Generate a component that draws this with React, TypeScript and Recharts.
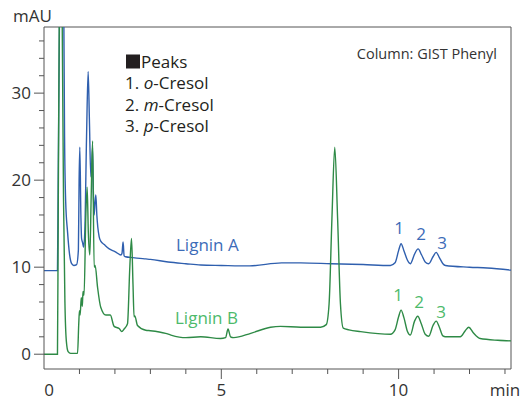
import React from "react";
import { LineChart, Line, XAxis, YAxis, ReferenceLine } from "recharts";

// retention time (min) and absorbance (mAU)
const ligninATime = [
  0, 0.38, 0.4, 0.45, 0.5, 0.55, 0.58, 0.61, 0.665, 0.72, 0.78, 0.84, 0.92, 0.97, 0.99, 1.01,
  1.04, 1.06, 1.09, 1.115, 1.15, 1.2, 1.245, 1.28, 1.32, 1.35, 1.369, 1.39, 1.414, 1.44, 1.462,
  1.49, 1.555, 1.6, 1.7, 1.84, 2.0, 2.17, 2.2, 2.23, 2.26, 2.3, 2.5, 2.87, 3.0, 3.5, 4.0, 4.42,
  5.0, 5.8, 6.7, 7.24, 8.1, 9.0, 9.77, 9.9, 10.0, 10.07, 10.15, 10.25, 10.33, 10.45, 10.55,
  10.65, 10.75, 10.85, 10.97, 11.06, 11.15, 11.25, 11.32, 12.0, 12.5, 13.2,
];
const ligninASignal = [
  9.6, 9.6, 20, 45, 60, 45, 25, 17.7, 14, 11.5, 10.4, 10.2, 10.3, 12, 20, 23.8,
  16, 13.3, 12.8, 12.3, 14, 25, 32.5, 27, 20.4, 22, 23.7, 19, 16, 17.5, 18.3,
  16, 13.5, 13.0, 12.6, 12.1, 11.8, 11.4, 11.6, 12.9, 11.3, 11.2, 11.1, 10.95, 10.9, 10.6, 10.4, 10.25,
  10.2, 10.15, 10.5, 10.5, 10.4, 10.3, 10.2, 10.5, 11.9, 12.7, 11.9, 10.8, 10.4, 11.5, 12.1,
  11.4, 10.6, 10.4, 11.2, 11.7, 11.1, 10.4, 10.2, 10.0, 9.9, 9.65,
];

const ligninBTime = [
  0, 0.38, 0.4, 0.44, 0.47, 0.51, 0.55, 0.59, 0.63, 0.68, 0.75, 0.946, 0.98, 1.0, 1.02, 1.05,
  1.08, 1.1, 1.13, 1.18, 1.217, 1.25, 1.293, 1.33, 1.37, 1.414, 1.442, 1.51, 1.6, 1.744, 1.87,
  1.977, 2.12, 2.194, 2.26, 2.355, 2.42, 2.468, 2.51, 2.54, 2.56, 2.637, 2.87, 3.0, 3.43, 3.58,
  4.0, 4.42, 4.98, 5.12, 5.19, 5.26, 5.35, 5.83, 6.39, 6.67, 7.24, 7.8, 7.96, 8.04, 8.12, 8.2,
  8.28, 8.36, 8.44, 8.6, 8.93, 9.77, 9.9, 10.0, 10.07, 10.15, 10.25, 10.33, 10.45, 10.54, 10.64,
  10.75, 10.85, 10.97, 11.06, 11.15, 11.25, 11.32, 11.74, 11.88, 11.98, 12.1, 12.3, 12.8, 13.2,
];
const ligninBSignal = [
  0, 0, 15, 45, 55, 40, 18, 6, 1.5, 0.3, 0.1, 0.1, 3.5, 5.0, 4.5, 6.5,
  5.5, 7.2, 6.8, 16, 19.2, 14, 11.4, 18, 24.5, 10.0, 10.2, 7.7, 5.4, 4.5, 4.5,
  3.2, 2.95, 2.6, 2.9, 3.5, 10, 13.3, 8, 4.3, 4.4, 3.3, 2.75, 2.7, 2.4, 2.2,
  1.9, 2.0, 1.8, 1.9, 2.9, 2.0, 1.9, 2.4, 3.1, 3.2, 3.1, 3.1, 3.4, 5.8, 15.6, 23.8,
  15.6, 5.8, 3.0, 2.8, 2.6, 2.3, 2.8, 4.3, 5.06, 4.2, 2.6, 2.2, 3.8, 4.37, 3.5,
  2.3, 2.07, 3.3, 3.8, 3.1, 2.1, 2.0, 2.0, 2.7, 3.1, 2.5, 1.8, 1.6, 1.53,
];

const yTicks = [0, 2, 4, 6, 8, 10, 12, 14, 16, 18, 20, 22, 24, 26, 28, 30, 32, 34, 36];
const yLabels = [0, 10, 20, 30];
const xTicks = [0, 1, 2, 3, 4, 5, 6, 7, 8, 9, 10, 11, 12, 13];
const xLabels: Record<number, string> = { 0: "0", 5: "5", 10: "10", 13: "min" };

const peakNames = ["o", "m", "p"];

const X_MAX = 13.17;
const Y_MIN = -1.7;
const Y_MAX = 37.6;

const axisColor = "#555555";
const textColor = "#333333";
const blue = "#2f5fae";
const green = "#2e8a46";
const font = "'Open Sans', sans-serif";

const ligninA = ligninATime.map((t, i) => ({ t, v: ligninASignal[i] }));
const ligninB = ligninBTime.map((t, i) => ({ t, v: ligninBSignal[i] }));

const YTick = (props: any) => {
  const { x, y, payload } = props;
  const major = yLabels.includes(payload.value);
  return (
    <g>
      <line x1={x - (major ? 10 : 5)} x2={x} y1={y} y2={y} stroke={axisColor} />
      {major && (
        <text x={x - 13} y={y + 6} textAnchor="end" fontSize={17} fontFamily={font} fill={textColor}>
          {payload.value}
        </text>
      )}
    </g>
  );
};

const XTick = (props: any) => {
  const { x, y, payload } = props;
  const label = xLabels[payload.value];
  const major = payload.value === 5 || payload.value === 10;
  return (
    <g>
      {payload.value > 0 && <line x1={x} x2={x} y1={y} y2={y + (major ? 10 : 5)} stroke={axisColor} />}
      {label && (
        <text
          x={payload.value === 0 ? x + 5 : x}
          y={y + 27}
          textAnchor="middle"
          fontSize={17}
          fontFamily={font}
          fill={textColor}
        >
          {label}
        </text>
      )}
    </g>
  );
};

export default function App() {
  return (
    <div style={{ position: "absolute", left: 0, top: 0, width: 522, height: 401, background: "#fff" }}>
      <LineChart width={522} height={401} margin={{ top: 27, right: 11, bottom: 0, left: 0 }}>
        <XAxis
          dataKey="t"
          type="number"
          domain={[0, X_MAX]}
          allowDataOverflow
          ticks={xTicks}
          interval={0}
          tickSize={0}
          tickMargin={0}
          height={32}
          stroke={axisColor}
          tick={<XTick />}
        />
        <YAxis
          type="number"
          domain={[Y_MIN, Y_MAX]}
          allowDataOverflow
          ticks={yTicks}
          interval={0}
          tickSize={0}
          tickMargin={0}
          width={44}
          stroke={axisColor}
          tick={<YTick />}
        />
        <ReferenceLine y={Y_MAX} stroke={axisColor} />
        <ReferenceLine x={X_MAX} stroke={axisColor} />
        <Line
          data={ligninA}
          dataKey="v"
          type="monotone"
          stroke={blue}
          strokeWidth={1.4}
          dot={false}
          isAnimationActive={false}
        />
        <Line
          data={ligninB}
          dataKey="v"
          type="monotone"
          stroke={green}
          strokeWidth={1.4}
          dot={false}
          isAnimationActive={false}
        />
      </LineChart>
      <svg
        width={522}
        height={401}
        style={{ position: "absolute", left: 0, top: 0, pointerEvents: "none" }}
        fontFamily={font}
      >
        <text x={13} y={22} fontSize={17} fill={textColor}>mAU</text>
        <text x={497} y={59} fontSize={14.5} textAnchor="end" fill={textColor}>Column: GIST Phenyl</text>
        <rect x={126} y={54.5} width={14} height={14} fill="#231f20" />
        <text x={141} y={68} fontSize={17} fill="#231f20">Peaks</text>
        {peakNames.map((p, i) => (
          <text key={p} x={125} y={89 + i * 21.5} fontSize={17} fill="#231f20">
            {i + 1}. <tspan fontStyle="italic">{p}</tspan>-Cresol
          </text>
        ))}
        <text x={176} y={251} fontSize={17} fill="#3d6cb8">Lignin A</text>
        <text x={175} y={324} fontSize={17} fill="#4dba6b">Lignin B</text>
        <text x={399} y={234} fontSize={17} textAnchor="middle" fill="#3d6cb8">1</text>
        <text x={421} y={240} fontSize={17} textAnchor="middle" fill="#3d6cb8">2</text>
        <text x={442} y={249} fontSize={17} textAnchor="middle" fill="#3d6cb8">3</text>
        <text x={398} y={301} fontSize={17} textAnchor="middle" fill="#4dba6b">1</text>
        <text x={419} y={308} fontSize={17} textAnchor="middle" fill="#4dba6b">2</text>
        <text x={441} y={318} fontSize={17} textAnchor="middle" fill="#4dba6b">3</text>
      </svg>
    </div>
  );
}
